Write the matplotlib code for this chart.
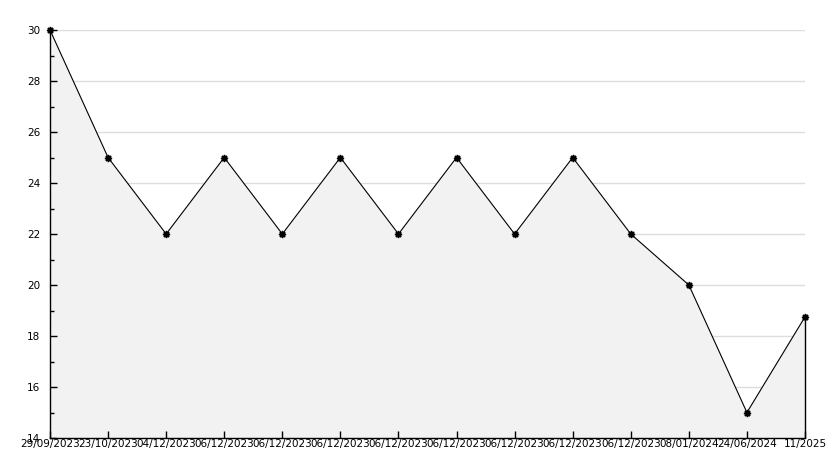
import numpy as np
import matplotlib
matplotlib.use('Agg')
from matplotlib import pyplot as plt
from matplotlib.ticker import MultipleLocator

labels = ['29/09/2023', '23/10/2023', '04/12/2023', '06/12/2023', '06/12/2023',
          '06/12/2023', '06/12/2023', '06/12/2023', '06/12/2023', '06/12/2023',
          '06/12/2023', '08/01/2024', '24/06/2024', '11/2025']
values = [30, 25, 22, 25, 22, 25, 22, 25, 22, 25, 22, 20, 15, 18.75]

x = np.arange(len(values))

fig = plt.figure(figsize=(8.34, 4.68), dpi=100)
ax = fig.add_axes([50/834, 30/468, 755/834, 408/468])

ax.set_xlim(0, len(values) - 1)
ax.set_ylim(14, 30)

ax.yaxis.set_major_locator(MultipleLocator(2))
ax.yaxis.set_minor_locator(MultipleLocator(1))

# grid behind the filled area
ax.hlines(np.arange(16, 31, 2), 0, len(values) - 1, color='#dddddd',
          linewidth=1, zorder=0)

ax.fill_between(x, values, 14, facecolor='#f2f2f2', edgecolor='none', zorder=1)
ax.plot(x, values, color='black', linewidth=0.8, zorder=3)
ax.plot(x, values, linestyle='none', marker=(8, 1, 0), markersize=5,
        color='black', zorder=4, clip_on=False)
ax.vlines(x[-1], 14, values[-1], color='black', linewidth=1, zorder=3,
          clip_on=False)

ax.set_xticks(x)
ax.set_xticklabels(labels)

for s in ['top', 'right']:
    ax.spines[s].set_visible(False)
for s in ['left', 'bottom']:
    ax.spines[s].set_linewidth(1)
    ax.spines[s].set_zorder(5)

ax.tick_params(axis='both', which='major', direction='in', length=5, width=1,
               labelsize=7.5)
ax.tick_params(axis='y', which='minor', direction='in', length=3, width=1)
ax.tick_params(axis='y', pad=7)
ax.tick_params(axis='x', pad=1)

plt.savefig('out.png', dpi=100)
